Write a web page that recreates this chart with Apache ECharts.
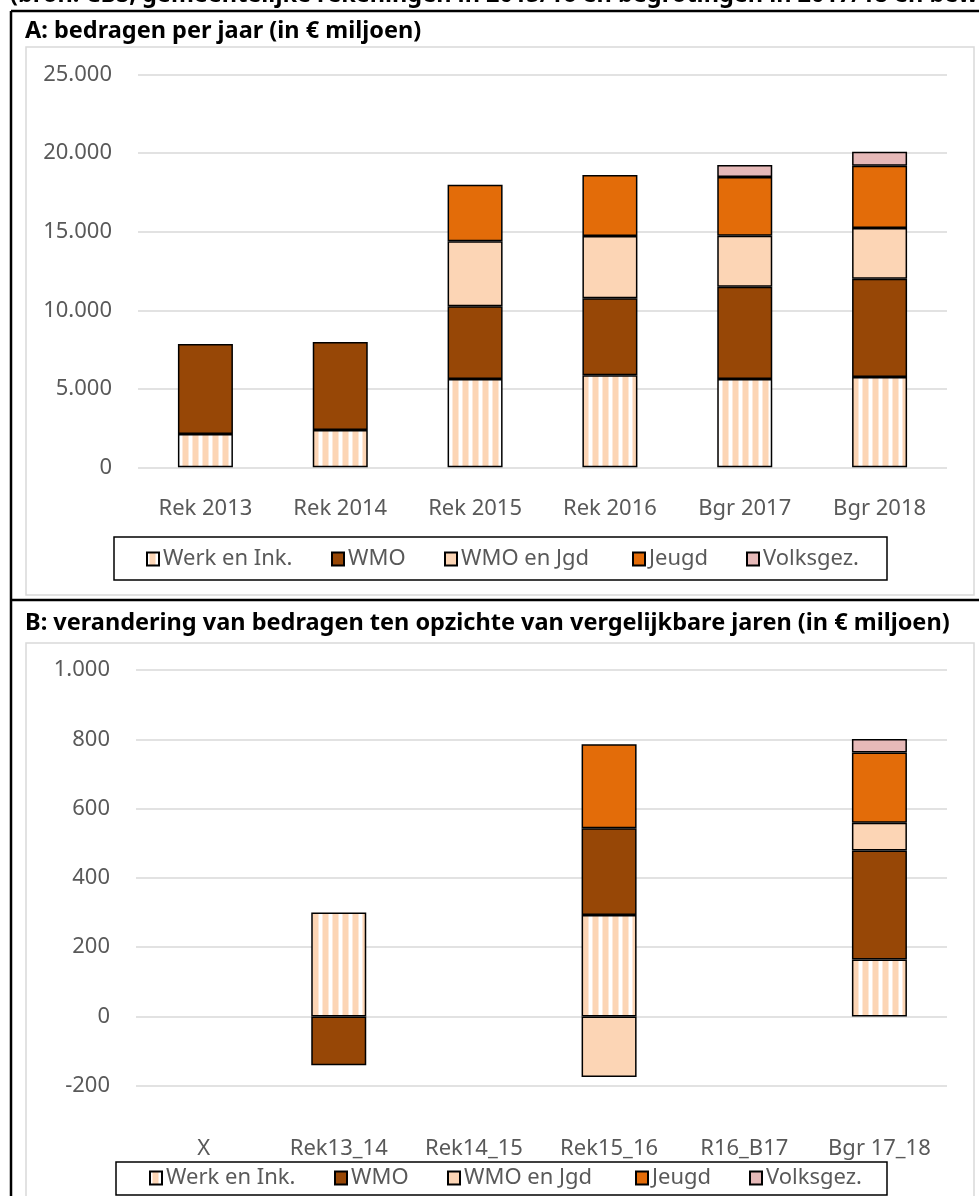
<!DOCTYPE html>
<html><head><meta charset="utf-8">
<script src="https://cdn.jsdelivr.net/npm/echarts@6/dist/echarts.min.js"></script>
<style>html,body{margin:0;padding:0;background:#fff}#c{width:979px;height:1196px}</style>
</head><body><div id="c"></div>
<script>
// ---- Data ----
const seriesNames = ['Werk en Ink.', 'WMO', 'WMO en Jgd', 'Jeugd', 'Volksgez.'];

const categoriesA = ['Rek 2013', 'Rek 2014', 'Rek 2015', 'Rek 2016', 'Bgr 2017', 'Bgr 2018'];
const werkA   = [2120, 2380, 5620, 5860, 5620, 5750];
const wmoA    = [5730, 5600, 4630, 4900, 5880, 6260];
const wmoJgdA = [null, null, 4140, 3970, 3250, 3230];
const jeugdA  = [null, null, 3610, 3890, 3740, 3970];
const volksA  = [null, null, null, null, 760, 890];

const categoriesB = ['X', 'Rek13_14', 'Rek14_15', 'Rek15_16', 'R16_B17', 'Bgr 17_18'];
const werkB   = [null, 300, null, 293, null, 164];
const wmoB    = [null, -141, null, 250, null, 315];
const wmoJgdB = [null, null, null, -175, null, 80];
const jeugdB  = [null, null, null, 243, null, 203];
const volksB  = [null, null, null, null, null, 39];

const titleTop = '(bron: CBS, gemeentelijke rekeningen in 2015/16 en begrotingen in 2017/18 en bewerkingen)';
const titleA = 'A: bedragen per jaar (in € miljoen)';
const titleB = 'B: verandering van bedragen ten opzichte van vergelijkbare jaren (in € miljoen)';

// ---- Styles ----
const FONT = '"Noto Sans", "Open Sans", sans-serif';
const GREY = '#595959';
const GRID = '#D9D9D9';

function stripePattern() {
  const cv = document.createElement('canvas');
  cv.width = 10; cv.height = 10;
  const ctx = cv.getContext('2d');
  ctx.fillStyle = '#ffffff'; ctx.fillRect(0, 0, 10, 10);
  ctx.fillStyle = '#FDE9D9'; ctx.fillRect(2, 0, 1, 10); ctx.fillRect(8, 0, 1, 10);
  ctx.fillStyle = '#FCD5B5'; ctx.fillRect(3, 0, 5, 10);
  return cv;
}
const colors = [
  { image: stripePattern(), repeat: 'repeat' },
  '#974706', '#FCD5B5', '#E36C09', '#E6B9B8'
];

const dataA = [werkA, wmoA, wmoJgdA, jeugdA, volksA];
const dataB = [werkB, wmoB, wmoJgdB, jeugdB, volksB];

const fmt = v => {
  const s = Math.abs(v).toString().replace(/\B(?=(\d{3})+(?!\d))/g, '.');
  return (v < 0 ? '-' : '') + s;
};

const series = [];
seriesNames.forEach((n, i) => {
  series.push({
    name: n, type: 'bar', stack: 'A', xAxisIndex: 0, yAxisIndex: 0,
    data: dataA[i], barWidth: 55,
    itemStyle: { color: colors[i], borderColor: '#000', borderWidth: 1.5 },
    emphasis: { disabled: true }
  });
});
seriesNames.forEach((n, i) => {
  series.push({
    name: n, type: 'bar', stack: 'B', xAxisIndex: 1, yAxisIndex: 1,
    data: dataB[i], barWidth: 55,
    itemStyle: { color: colors[i], borderColor: '#000', borderWidth: 1.5 },
    emphasis: { disabled: true }
  });
});

const axisLabelY = { color: GREY, fontSize: 22, fontFamily: FONT, margin: 26, formatter: fmt };
const axisLabelX = { color: GREY, fontSize: 22, fontFamily: FONT, interval: 0 };

// one legend component per entry so each can sit where the reference has it
const legendXA = [146, 331, 444, 632, 746];
const legendXB = [149, 334, 447, 635, 749];
const legends = [];
function addLegends(xs, top) {
  seriesNames.forEach((n, i) => {
    legends.push({
      data: [n], left: xs[i], top: top, icon: 'rect',
      itemWidth: 12, itemHeight: 13, padding: 0, selectedMode: false,
      textStyle: { color: GREY, fontSize: 22, fontFamily: FONT, padding: [0, 0, 0, -1] }
    });
  });
}
addLegends(legendXA, 548);
addLegends(legendXB, 1167);

const chart = echarts.init(document.getElementById('c'));
chart.setOption({
  animation: false,
  backgroundColor: '#fff',
  grid: [
    { left: 138, right: 32, top: 74.7, bottom: 1196 - 467.3, containLabel: false },
    { left: 136, right: 32, top: 670, bottom: 1196 - 1085.7, containLabel: false }
  ],
  xAxis: [
    { type: 'category', gridIndex: 0, data: categoriesA,
      axisLine: { show: false }, axisTick: { show: false },
      axisLabel: Object.assign({}, axisLabelX, { margin: 30 }) },
    { type: 'category', gridIndex: 1, data: categoriesB,
      axisLine: { show: false }, axisTick: { show: false },
      axisLabel: Object.assign({}, axisLabelX, { margin: 52 }) }
  ],
  yAxis: [
    { type: 'value', gridIndex: 0, min: 0, max: 25000, interval: 5000,
      axisLine: { show: false }, axisTick: { show: false },
      splitLine: { lineStyle: { color: GRID, width: 1.5 } },
      axisLabel: axisLabelY },
    { type: 'value', gridIndex: 1, min: -200, max: 1000, interval: 200,
      axisLine: { show: false }, axisTick: { show: false },
      splitLine: { lineStyle: { color: GRID, width: 1.5 } },
      axisLabel: axisLabelY }
  ],
  legend: legends,
  graphic: [
    { type: 'text', left: 10, top: -17, style: { text: titleTop, fill: '#000', font: 'bold 23.5px ' + FONT } },
    { type: 'line', shape: { x1: 11, y1: 11, x2: 979, y2: 11 }, style: { stroke: '#000', lineWidth: 2.5 } },
    { type: 'line', shape: { x1: 11, y1: 11, x2: 11, y2: 1196 }, style: { stroke: '#000', lineWidth: 2.5 } },
    { type: 'line', shape: { x1: 11, y1: 600, x2: 979, y2: 600 }, style: { stroke: '#000', lineWidth: 2.5 } },
    { type: 'text', left: 25, top: 19, style: { text: titleA, fill: '#000', font: 'bold 23.5px ' + FONT } },
    { type: 'text', left: 25, top: 611, style: { text: titleB, fill: '#000', font: 'bold 23.5px ' + FONT } },
    { type: 'rect', shape: { x: 26, y: 47, width: 948, height: 548 }, style: { fill: 'none', stroke: GRID, lineWidth: 1.5 }, z: -1 },
    { type: 'rect', shape: { x: 26, y: 643, width: 948, height: 600 }, style: { fill: 'none', stroke: GRID, lineWidth: 1.5 }, z: -1 },
    { type: 'rect', shape: { x: 114, y: 537, width: 773, height: 43 }, style: { fill: 'none', stroke: '#000', lineWidth: 1.5 } },
    { type: 'rect', shape: { x: 116, y: 1162, width: 771, height: 33 }, style: { fill: 'none', stroke: '#000', lineWidth: 1.5 } }
  ],
  series: series
});
</script></body></html>
